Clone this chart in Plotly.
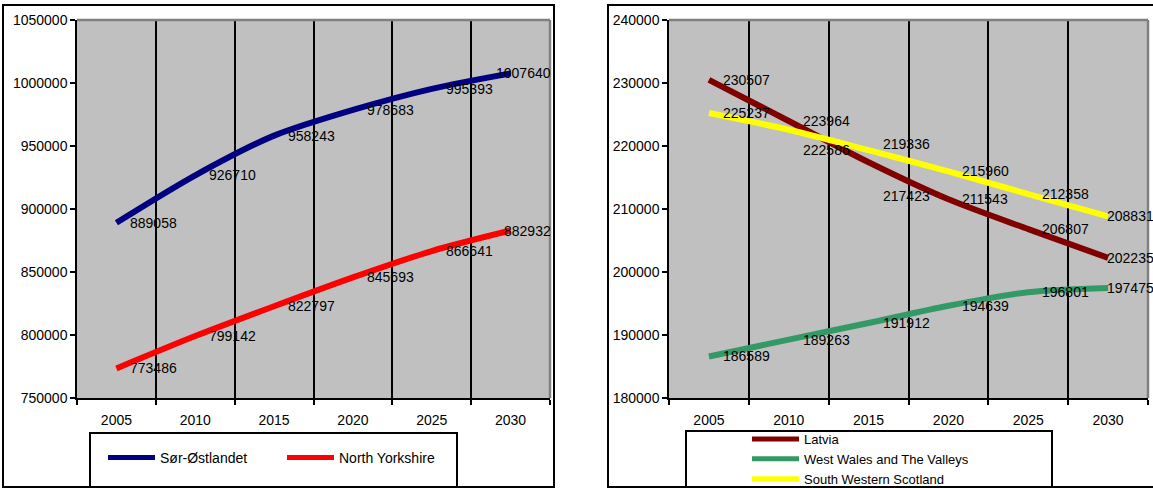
import plotly.graph_objects as go

# ---------------- data ----------------
years = ["2005", "2010", "2015", "2020", "2025", "2030"]

sor_ostlandet = [889058, 926710, 958243, 978683, 995393, 1007640]
north_yorkshire = [773486, 799142, 822797, 845693, 866641, 882932]

latvia = [230507, 223964, 217423, 211543, 206807, 202235]
west_wales = [186589, 189263, 191912, 194639, 196801, 197475]
south_western_scotland = [225237, 222586, 219336, 215960, 212358, 208831]

left_ticks = [750000, 800000, 850000, 900000, 950000, 1000000, 1050000]
right_ticks = [180000, 190000, 200000, 210000, 220000, 230000, 240000]

# ---------------- style ----------------
W, H = 1153, 488
FONT = "Liberation Sans, Arial, sans-serif"
FS = 14


def px(x):
    return x / W


def py(y):
    return 1 - y / H


LEFT_PLOT = (77, 550, 20, 398)
RIGHT_PLOT = (669, 1148, 20, 398)

fig = go.Figure()

left_series = [
    ("Sør-Østlandet", sor_ostlandet, "#000080"),
    ("North Yorkshire", north_yorkshire, "#FF0000"),
]
right_series = [
    ("Latvia", latvia, "#800000"),
    ("West Wales and The Valleys", west_wales, "#339966"),
    ("South Western Scotland", south_western_scotland, "#FFFF00"),
]

# label vertical nudges (px) where labels were moved off their points
right_label_dy = {
    "Latvia": [0, 0, -34, 0, 0, 0],
    "West Wales and The Valleys": [0, 0, 0, 0, 0, 0],
    "South Western Scotland": [0, -20, 6, 0, 0, 0],
}

for name, vals, col in left_series:
    fig.add_trace(go.Scatter(
        x=years, y=vals, name=name, mode="lines",
        line=dict(color=col, width=6, shape="spline", smoothing=0.8),
        xaxis="x", yaxis="y", legend="legend", hoverinfo="skip",
    ))

for name, vals, col in right_series:
    fig.add_trace(go.Scatter(
        x=years, y=vals, name=name, mode="lines",
        line=dict(color=col, width=6, shape="spline", smoothing=0.8),
        xaxis="x2", yaxis="y2", legend="legend2", hoverinfo="skip",
    ))

annotations = []
# left chart labels
left_last_shift = LEFT_PLOT[1] + 3 - (LEFT_PLOT[0] + (LEFT_PLOT[1] - LEFT_PLOT[0]) * 5.5 / 6)
for name, vals, col in left_series:
    for i, (yr, v) in enumerate(zip(years, vals)):
        last = i == len(years) - 1
        annotations.append(dict(
            x=i, y=v, xref="x", yref="y", text=str(v), showarrow=False,
            xanchor="right" if last else "left", yanchor="middle",
            xshift=left_last_shift if last else 12, yshift=0,
            font=dict(family=FONT, size=FS, color="black"),
        ))
# right chart labels
for name, vals, col in right_series:
    for i, (yr, v) in enumerate(zip(years, vals)):
        last = i == len(years) - 1
        annotations.append(dict(
            x=i, y=v, xref="x2", yref="y2", text=str(v), showarrow=False,
            xanchor="left", yanchor="middle",
            xshift=-3 if last else 12, yshift=right_label_dy[name][i],
            font=dict(family=FONT, size=FS, color="black"),
        ))

shapes = []
# outer chart frames
shapes.append(dict(type="rect", xref="paper", yref="paper",
                   x0=px(3), x1=px(554), y0=py(487), y1=py(5),
                   line=dict(color="black", width=2), layer="below"))
shapes.append(dict(type="rect", xref="paper", yref="paper",
                   x0=px(608), x1=px(1170), y0=py(487), y1=py(5),
                   line=dict(color="black", width=2), layer="below"))
# legend boxes
shapes.append(dict(type="rect", xref="paper", yref="paper",
                   x0=px(90), x1=px(457), y0=py(487), y1=py(433),
                   line=dict(color="black", width=2), layer="below"))
shapes.append(dict(type="rect", xref="paper", yref="paper",
                   x0=px(686), x1=px(1052), y0=py(487), y1=py(431),
                   line=dict(color="black", width=2), layer="below"))
# grey plot-area border (top and right)
for xr, yr in (("x", "y"), ("x2", "y2")):
    shapes.append(dict(type="line", xref=xr + " domain", yref=yr + " domain",
                       x0=0, x1=1, y0=1, y1=1,
                       line=dict(color="#808080", width=2.5), layer="above"))
    shapes.append(dict(type="line", xref=xr + " domain", yref=yr + " domain",
                       x0=1, x1=1, y0=0, y1=1,
                       line=dict(color="#808080", width=2.5), layer="above"))

xaxis_common = dict(
    type="category", range=[-0.5, 5.5], tickson="boundaries",
    ticks="outside", ticklen=5, tickwidth=1.5, tickcolor="black",
    showgrid=True, gridcolor="black", gridwidth=1.5,
    showline=True, linecolor="black", linewidth=1.5,
    tickfont=dict(family=FONT, size=FS, color="black"),
    ticklabelstandoff=8, fixedrange=True,
)
yaxis_common = dict(
    ticks="outside", ticklen=5, tickwidth=1.5, tickcolor="black",
    showgrid=False, zeroline=False,
    showline=True, linecolor="black", linewidth=1.5,
    tickformat="d", tickfont=dict(family=FONT, size=FS, color="black"),
    fixedrange=True,
)

legend_common = dict(
    bgcolor="rgba(0,0,0,0)", borderwidth=0, itemwidth=47,
    itemsizing="constant",
    xanchor="left", yanchor="top", traceorder="normal",
    itemclick=False, itemdoubleclick=False,
)

fig.update_layout(
    width=W, height=H, autosize=False,
    margin=dict(l=0, r=0, t=0, b=0, autoexpand=False),
    paper_bgcolor="white", plot_bgcolor="#C0C0C0",
    font=dict(family=FONT, size=FS, color="black"),
    showlegend=True,
    xaxis=dict(xaxis_common, domain=[px(LEFT_PLOT[0]), px(LEFT_PLOT[1])], anchor="y"),
    yaxis=dict(yaxis_common, domain=[py(LEFT_PLOT[3]), py(LEFT_PLOT[2])], anchor="x",
               range=[left_ticks[0], left_ticks[-1]], tickvals=left_ticks),
    xaxis2=dict(xaxis_common, domain=[px(RIGHT_PLOT[0]), px(RIGHT_PLOT[1])], anchor="y2"),
    yaxis2=dict(yaxis_common, domain=[py(RIGHT_PLOT[3]), py(RIGHT_PLOT[2])], anchor="x2",
                range=[right_ticks[0], right_ticks[-1]], tickvals=right_ticks),
    legend=dict(legend_common, orientation="h", x=px(103), y=py(442), entrywidth=117,
                font=dict(family=FONT, size=FS, color="black")),
    legend2=dict(legend_common, orientation="v", x=px(747), y=py(424),
                 font=dict(family=FONT, size=13, color="black")),
    annotations=annotations,
    shapes=shapes,
)

fig.write_html("out.html")
